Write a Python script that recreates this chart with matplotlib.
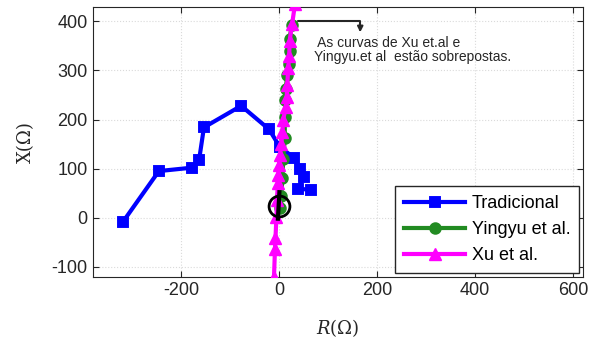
import numpy as np
import matplotlib.pyplot as plt

"""data"""

trad_r = [-318, -245, -177, -163, -153, -77, -20, 2, 31, 43, 51, 39, 65]
trad_x = [-8, 95, 102, 117, 184, 228, 180, 144, 122, 100, 83, 59, 57]

ying_r = [3, 5, 7, 9, 12, 12, 13, 14, 17, 21, 22, 22, 26]
ying_x = [20, 45, 80, 120, 162, 205, 240, 263, 290, 314, 340, 365, 392]

xu_r = [-10, -8, -7, -5, -4, -2, -1, 0, 2, 5, 7, 9, 14, 16, 17, 19, 21, 22, 27, 33]
xu_x = [-121, -63, -42, 2, 36, 71, 86, 107, 127, 151, 175, 200, 226, 246, 270, 304, 330, 361, 395, 436]

ref_r = [1, -2]
ref_x = [52, -2]
ref_pt = (0.5, 23)

xticks = [-200, 0, 200, 400, 600]
yticks = [-100, 0, 100, 200, 300, 400]

note = " As curvas de Xu et.al e\nYingyu.et al  estão sobrepostas."

"""plot"""

plt.rcParams['font.family'] = ['Liberation Sans', 'DejaVu Sans']
plt.rcParams['axes.unicode_minus'] = False
plt.rcParams['mathtext.fontset'] = 'dejavuserif'

fig = plt.figure(figsize=(6.14, 3.40), dpi=100)
ax1 = fig.add_axes([0.151, 0.185, 0.798, 0.794])

ax1.plot(trad_r, trad_x, color='#0000ff', lw=3, marker='s', ms=6, mew=2.8,
         mfc='#0000ff', mec='#0000ff', label='Tradicional', zorder=3)
ax1.plot(ying_r, ying_x, color='#228b22', lw=3, marker='o', ms=7, mew=2,
         mfc='#228b22', mec='#228b22', label='Yingyu et al.', zorder=4)
ax1.plot(xu_r, xu_x, color='#ff00ff', lw=3, marker='^', ms=9, mew=1,
         mfc='#ff00ff', mec='#ff00ff', label='Xu et al.', zorder=5)
ax1.plot(ref_r, ref_x, color='k', lw=3, zorder=6)
ax1.plot(*ref_pt, marker='o', ms=15, mew=2, mfc='none', mec='k', zorder=6)

ax1.annotate('', xy=(166, 372), xytext=(34, 401),
             arrowprops=dict(arrowstyle='-|>', color='#262626', lw=1.5,
                             mutation_scale=8,
                             connectionstyle='angle,angleA=0,angleB=90,rad=0'),
             zorder=7)
ax1.text(72, 342, note, fontsize=10, color='#262626', va='center', ha='left',
         linespacing=1.0)

"""detail"""

ax1.set_xlim(-380, 620)
ax1.set_ylim(-121, 429)
ax1.set_xticks(xticks)
ax1.set_yticks(yticks)
ax1.tick_params(direction='in', top=True, right=True, labelsize=13,
                labelcolor='#262626', color='#262626', length=4)
for s in ax1.spines.values():
    s.set_color('#262626')
ax1.grid(color='#dadada', linestyle=':', lw=0.8)

ax1.set_xlabel('$R(\\Omega)$', fontsize=13, color='#262626', labelpad=13)
ax1.set_ylabel('X(Ω)', fontsize=13, color='#262626',
               family='DejaVu Serif', labelpad=12)

ax1.legend(loc='lower right', bbox_to_anchor=(0.993, 0.015), borderaxespad=0,
           fontsize=13, handlelength=3.4, handletextpad=0.35, fancybox=False,
           edgecolor='#262626', framealpha=1, borderpad=0.5, labelspacing=0.5)

fig.savefig('out.png', dpi=100)
